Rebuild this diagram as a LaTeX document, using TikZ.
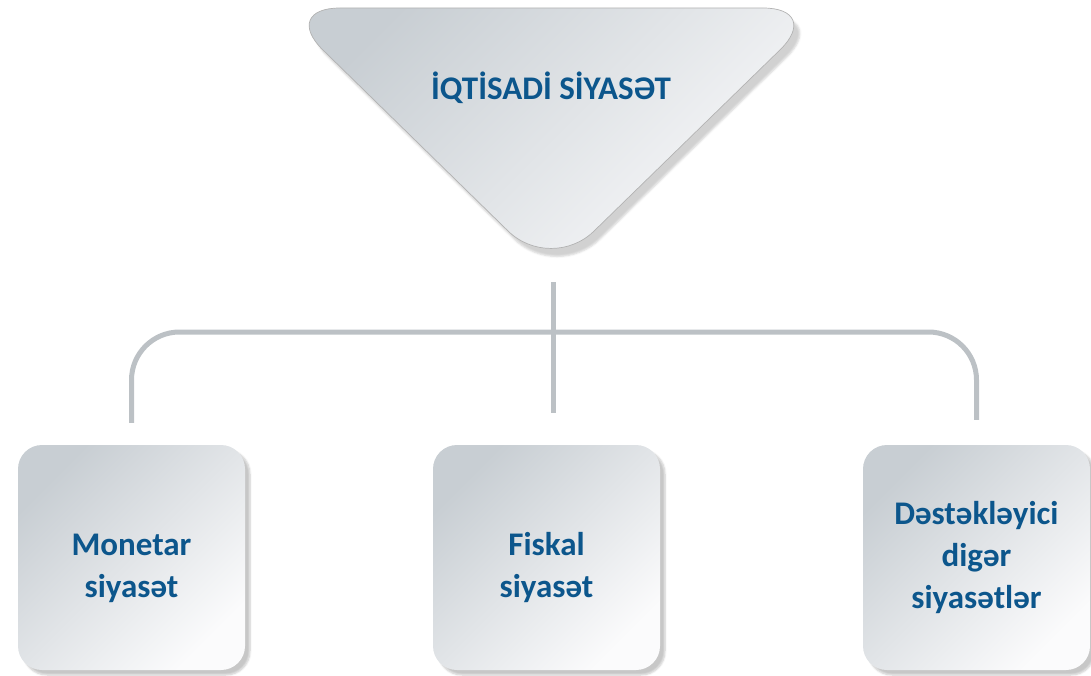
\documentclass[tikz,border=0pt]{standalone}
\usepackage{fontspec}
\setmainfont{Carlito}
\usepackage{tikz}
\usetikzlibrary{positioning,shadows,shadows.blur}
\definecolor{titleblue}{RGB}{12,86,140}
\definecolor{boxgray}{RGB}{200,206,211}
\definecolor{boxwhite}{RGB}{251,251,252}
\definecolor{linegray}{RGB}{188,193,197}

\begin{document}
\begin{tikzpicture}[x=1pt, y=-1pt, box/.style={rounded corners=24pt, minimum width=227pt, minimum height=225pt, top color=boxgray, bottom color=boxwhite, shading angle=45, blur shadow={shadow xshift=5pt, shadow yshift=-5pt, shadow opacity=22, shadow blur steps=6}, align=center, text=titleblue, font=\fontsize{33}{42}\selectfont\bfseries}, conn/.style={draw=linegray, line width=5pt}]
\useasboundingbox (0,0) rectangle (1091,676);
\shade[top color=boxgray, bottom color=boxwhite, shading angle=45, draw=black!30, line width=0.7pt, rounded corners=60pt, blur shadow={shadow xshift=6pt, shadow yshift=-8pt, shadow opacity=18}] (280,8) -- (823,8) -- (551,273) -- cycle;
\node[text=titleblue, font=\fontsize{33}{40}\selectfont\bfseries] (top) at (551,88) {İQTİSADİ SİYASƏT};
\coordinate (tip) at (553,252);
\coordinate (bar) at (553,332);
\node[box, text height=86pt] (mon) at (131.5,557.5) {Monetar\\siyasət};
\node[box, text height=86pt] (fis) at (546.5,557.5) {Fiskal\\siyasət};
\node[box] (oth) at (976.5,557.5) {Dəstəkləyici\\digər\\siyasətlər};
\draw[conn, shorten <=30pt, shorten >=32pt] (tip) -- (tip |- fis.north);
\draw[conn, rounded corners=48pt] ([yshift=22pt]mon.north) |- (bar) -| ([yshift=25pt]oth.north);
\end{tikzpicture}
\end{document}
